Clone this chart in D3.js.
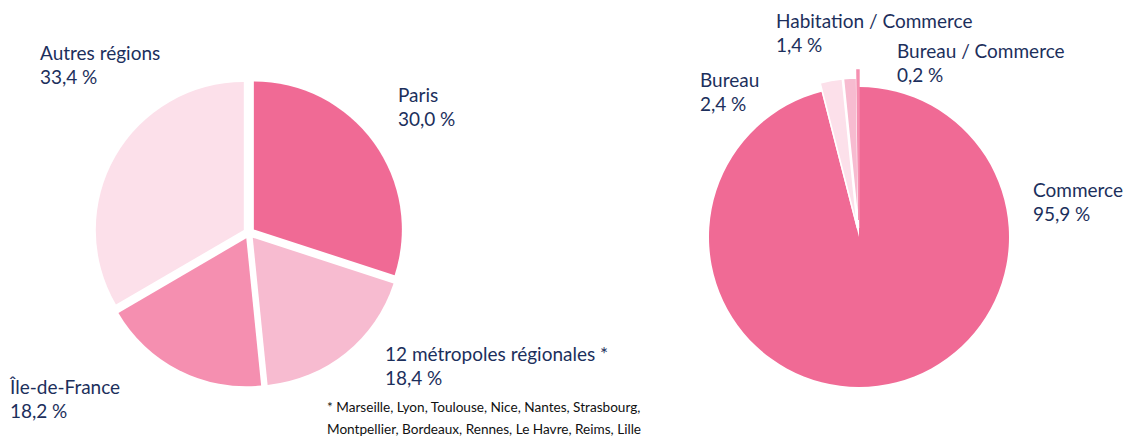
<!DOCTYPE html>
<html><head><meta charset="utf-8">
<script src="https://cdn.jsdelivr.net/npm/d3@7"></script>
<style>
html,body{margin:0;padding:0;background:#fff;}
svg{display:block;font-family:Lato,"Noto Sans",sans-serif;}
</style></head>
<body>
<svg id="chart" width="1130" height="437"></svg>
<script>
// Left pie: localisation
const leftCategories = ["Paris", "12 métropoles régionales *", "Île-de-France", "Autres régions"];
const leftValues = [30.0, 18.4, 18.2, 33.4];
const leftLabels = ["30,0\u202f%", "18,4\u202f%", "18,2\u202f%", "33,4\u202f%"];
const leftColors = ["#f06a95", "#f7bbd0", "#f58fb0", "#fce0ea"];

// Right pie: type de bien
const rightCategories = ["Commerce", "Bureau", "Habitation / Commerce", "Bureau / Commerce"];
const rightValues = [95.9, 2.4, 1.4, 0.2];
const rightLabels = ["95,9\u202f%", "2,4\u202f%", "1,4\u202f%", "0,2\u202f%"];
const rightColors = ["#f06a95", "#fce0ea", "#f7bbd0", "#f58fb0"];

const footnote = ["* Marseille, Lyon, Toulouse, Nice, Nantes, Strasbourg,",
                  "Montpellier, Bordeaux, Rennes,  Le Havre, Reims, Lille"];

const svg = d3.select("#chart");
const textColor = "#1c2f5c";

function drawPie(cx, cy, r, values, colors, offsets, strokes) {
  const pie = d3.pie().sort(null).value(d => d);
  const arcs = pie(values);
  const arc = d3.arc().innerRadius(0).outerRadius(r);
  const g = svg.append("g").attr("transform", `translate(${cx},${cy})`);
  g.selectAll("path").data(arcs).join("path")
    .attr("d", arc)
    .attr("fill", (d, i) => colors[i])
    .attr("stroke", (d, i) => strokes[i] || "none")
    .attr("stroke-width", (d, i) => strokes[i] ? 1.6 : 0)
    .attr("transform", (d, i) => {
      const a = (d.startAngle + d.endAngle) / 2;
      const o = offsets[i];
      return `translate(${o * Math.sin(a)},${-o * Math.cos(a)})`;
    });
  return arcs;
}

drawPie(249, 233, 148, leftValues, leftColors, [6, 6, 6, 6], []);
drawPie(859, 237, 150, rightValues, rightColors, [0, 9, 9, 17], [null, "#fff", "#fff", "#f58fb0"]);

function label(x, y, name, pct) {
  const t = svg.append("text").attr("fill", textColor).attr("font-size", 19);
  t.append("tspan").attr("x", x).attr("y", y).text(name);
  t.append("tspan").attr("x", x).attr("y", y + 23.5).text(pct);
}

const leftPos = [[398, 102], [385, 361], [10, 394], [40, 60]];
leftCategories.forEach((c, i) => label(leftPos[i][0], leftPos[i][1], c, leftLabels[i]));
const rightPos = [[1033, 197], [700, 87], [776, 28], [897, 58]];
rightCategories.forEach((c, i) => label(rightPos[i][0], rightPos[i][1], c, rightLabels[i]));

const fn = svg.append("text").attr("fill", "#111").attr("font-size", 13.6);
footnote.forEach((line, i) => fn.append("tspan").attr("x", 327).attr("y", 412 + i * 21.5).text(line));
</script>
</body></html>
